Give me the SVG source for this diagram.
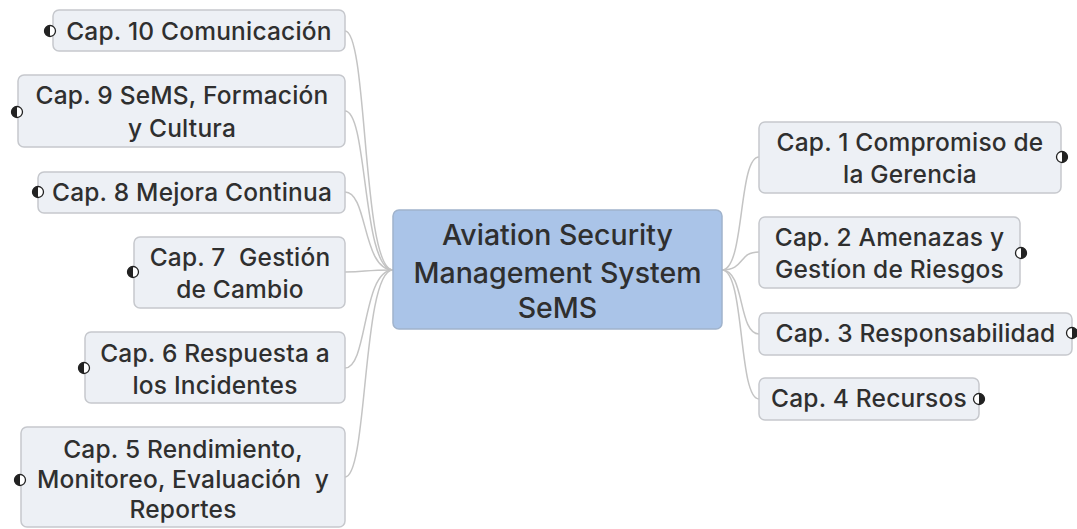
<svg xmlns="http://www.w3.org/2000/svg" width="1077" height="529" viewBox="0 0 1077 529">
<style>
.n rect{fill:#edf0f5;stroke:#c6c8cd;stroke-width:1.5}
.c rect{fill:#aac4e8;stroke:#a0b3cc;stroke-width:1.5}
text{font-family:Inter,"Liberation Sans",sans-serif;font-weight:500;fill:#2f2f2f;text-anchor:middle}
.n text{font-size:24.5px;letter-spacing:0.2px}
.c text{font-size:28.5px}
.e path{fill:none;stroke:#c4c4c4;stroke-width:1.5}
.dot circle{fill:#fff;stroke:#222;stroke-width:1.3}
.dot path{fill:#222}
</style>
<rect width="1077" height="529" fill="#fff"/>
<g class="e">
<path d="M345,31 C368,31 362,270 393,270"/>
<path d="M345,111 C368,111 362,270 393,270"/>
<path d="M345,192 C368,192 362,270 393,270"/>
<path d="M345,272 C368,272 362,270 393,270"/>
<path d="M345,368 C368,368 362,270 393,270"/>
<path d="M345,477 C368,477 362,270 393,270"/>
<path d="M722,270 C745,270 738,157 759,157"/>
<path d="M722,270 C745,270 738,252 759,252"/>
<path d="M722,270 C745,270 738,334 759,334"/>
<path d="M722,270 C745,270 738,399 759,399"/>
</g>
<g id="center" class="c">
<rect x="393" y="210" width="329" height="119" rx="6"/>
<text x="557.5" y="245">Aviation Security</text>
<text x="557.5" y="283">Management System</text>
<text x="557.5" y="318">SeMS</text>
</g>
<g id="cap10" class="n">
<rect x="53" y="10" width="292" height="41" rx="6"/>
<text x="199" y="40">Cap. 10 Comunicación</text>
<g class="dot"><circle cx="50" cy="31" r="5.5"/><path d="M50,25.5 A5.5,5.5 0 0 0 50,36.5 Z"/></g>
</g>
<g id="cap9" class="n">
<rect x="18" y="75" width="327" height="72" rx="6"/>
<text x="182" y="104">Cap. 9 SeMS, Formación</text>
<text x="182" y="137">y Cultura</text>
<g class="dot"><circle cx="17" cy="112" r="5.5"/><path d="M17,106.5 A5.5,5.5 0 0 0 17,117.5 Z"/></g>
</g>
<g id="cap8" class="n">
<rect x="38" y="172" width="307" height="41" rx="6"/>
<text x="192" y="201">Cap. 8 Mejora Continua</text>
<g class="dot"><circle cx="38" cy="192" r="5.5"/><path d="M38,186.5 A5.5,5.5 0 0 0 38,197.5 Z"/></g>
</g>
<g id="cap7" class="n">
<rect x="134" y="237" width="211" height="71" rx="6"/>
<text x="240" y="266" xml:space="preserve">Cap. 7  Gestión</text>
<text x="240" y="298">de Cambio</text>
<g class="dot"><circle cx="133" cy="272" r="5.5"/><path d="M133,266.5 A5.5,5.5 0 0 0 133,277.5 Z"/></g>
</g>
<g id="cap6" class="n">
<rect x="85" y="332" width="260" height="71" rx="6"/>
<text x="215" y="362">Cap. 6 Respuesta a</text>
<text x="215" y="394">los Incidentes</text>
<g class="dot"><circle cx="84" cy="368" r="5.5"/><path d="M84,362.5 A5.5,5.5 0 0 0 84,373.5 Z"/></g>
</g>
<g id="cap5" class="n">
<rect x="21" y="427" width="324" height="100" rx="6"/>
<text x="183" y="458">Cap. 5 Rendimiento,</text>
<text x="183" y="488" xml:space="preserve">Monitoreo, Evaluación  y</text>
<text x="183" y="518">Reportes</text>
<g class="dot"><circle cx="20" cy="480" r="5.5"/><path d="M20,474.5 A5.5,5.5 0 0 0 20,485.5 Z"/></g>
</g>
<g id="cap1" class="n">
<rect x="759" y="122" width="302" height="71" rx="6"/>
<text x="910" y="151">Cap. 1 Compromiso de</text>
<text x="910" y="183">la Gerencia</text>
<g class="dot"><circle cx="1062" cy="157" r="5.5"/><path d="M1062,151.5 A5.5,5.5 0 0 1 1062,162.5 Z"/></g>
</g>
<g id="cap2" class="n">
<rect x="759" y="217" width="261" height="71" rx="6"/>
<text x="889.5" y="246">Cap. 2 Amenazas y</text>
<text x="889.5" y="278">Gestíon de Riesgos</text>
<g class="dot"><circle cx="1021" cy="253" r="5.5"/><path d="M1021,247.5 A5.5,5.5 0 0 1 1021,258.5 Z"/></g>
</g>
<g id="cap3" class="n">
<rect x="759" y="313" width="313" height="42" rx="6"/>
<text x="915.5" y="342">Cap. 3 Responsabilidad</text>
<g class="dot"><circle cx="1072" cy="333" r="5.5"/><path d="M1072,327.5 A5.5,5.5 0 0 1 1072,338.5 Z"/></g>
</g>
<g id="cap4" class="n">
<rect x="759" y="378" width="220" height="42" rx="6"/>
<text x="869" y="407">Cap. 4 Recursos</text>
<g class="dot"><circle cx="979" cy="399" r="5.5"/><path d="M979,393.5 A5.5,5.5 0 0 1 979,404.5 Z"/></g>
</g>
</svg>
